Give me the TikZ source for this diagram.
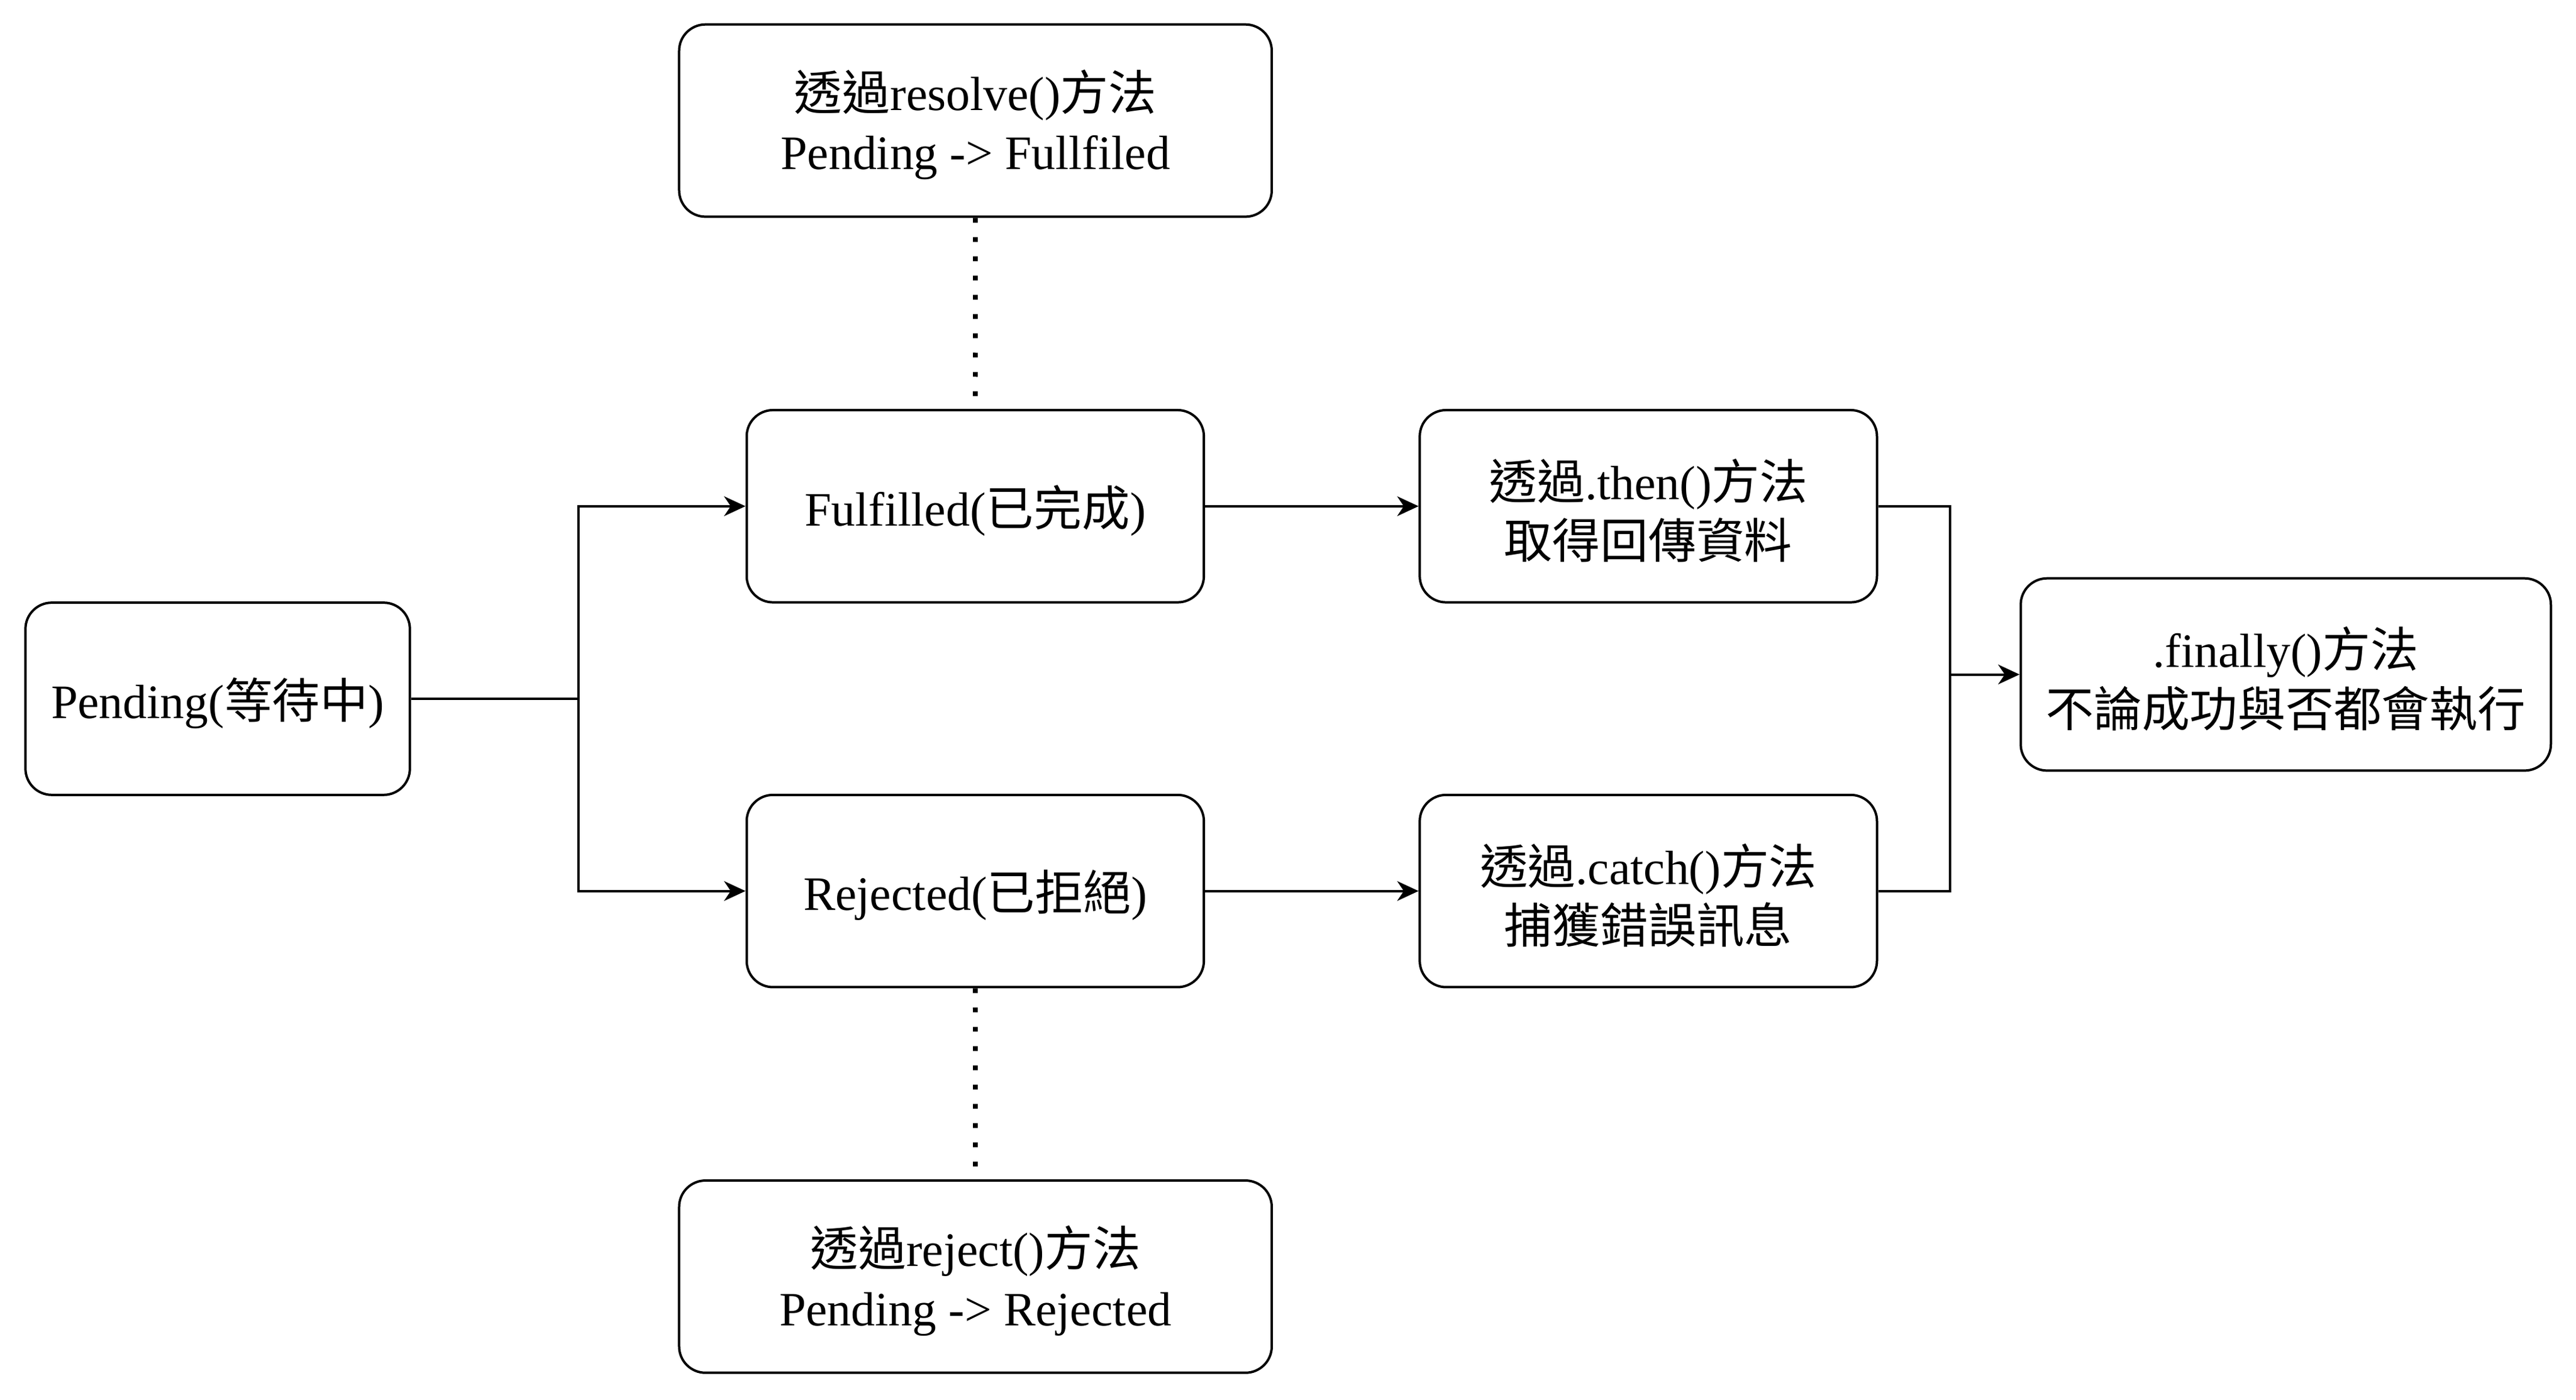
\documentclass[tikz,border=0pt]{standalone}
\usepackage{fontspec}
\setmainfont{Liberation Serif}
\newfontfamily\cjk{Noto Sans CJK TC}
\usetikzlibrary{arrows.meta}
\begin{document}
\begin{tikzpicture}[x=0.5pt,y=-0.5pt,
  box/.style={draw=black,fill=white,line width=0.73pt,rounded corners=8pt,
    minimum height=58.5pt,inner sep=0pt},
  txt/.style={align=center,inner sep=0pt,yshift=-1.3pt,
    font=\fontsize{14.6}{18}\selectfont},
  arr/.style={line width=0.73pt,-{Stealth[length=6.5pt,width=6pt,inset=2pt]}},
  conn/.style={line width=0.73pt},
  dots/.style={line width=1.46pt,dash pattern=on 1.46pt off 4.4pt}]
\useasboundingbox (0,0) rectangle (1568,852.07);
\node[box,minimum width=117pt,label={[txt]center:{Pending({\cjk 等待中})}}] (pend) at (132.5,425.3) {};
\node[box,minimum width=139.15pt,label={[txt]center:{Fulfilled({\cjk 已完成})}}] (ful) at (593.65,308.1) {};
\node[box,minimum width=139.15pt,label={[txt]center:{Rejected({\cjk 已拒絕})}}] (rej) at (593.65,542.3) {};
\node[box,minimum width=180.35pt,label={[txt]center:{{\cjk 透過}resolve(){\cjk 方法}\\Pending -> Fullfiled}}] (res) at (593.75,73.4) {};
\node[box,minimum width=180.35pt,label={[txt]center:{{\cjk 透過}reject(){\cjk 方法}\\Pending -> Rejected}}] (rjt) at (593.75,777) {};
\node[box,minimum width=139.15pt,label={[txt]center:{{\cjk 透過}.then(){\cjk 方法}\\{\cjk 取得回傳資料}}}] (thn) at (1003.35,308.1) {};
\node[box,minimum width=139.15pt,label={[txt]center:{{\cjk 透過}.catch(){\cjk 方法}\\{\cjk 捕獲錯誤訊息}}}] (cat) at (1003.35,542.3) {};
\node[box,minimum width=161.35pt,label={[txt]center:{.finally(){\cjk 方法}\\{\cjk 不論成功與否都會執行}}}] (fin) at (1391.35,410.5) {};
\coordinate (jn) at (352,425.3);
\coordinate (mg) at (1187,410.5);
\draw[conn] (pend.east) -- (jn);
\draw[arr] (jn) |- (ful.west);
\draw[arr] (jn) |- (rej.west);
\draw[arr] (ful.east) -- (thn.west);
\draw[arr] (rej.east) -- (cat.west);
\draw[conn] (thn.east) -| (mg);
\draw[conn] (cat.east) -| (mg);
\draw[arr] (mg) -- (fin.west);
\draw[dots] (res.south) -- (ful.north);
\draw[dots] (rej.south) -- (rjt.north);
\end{tikzpicture}
\end{document}
